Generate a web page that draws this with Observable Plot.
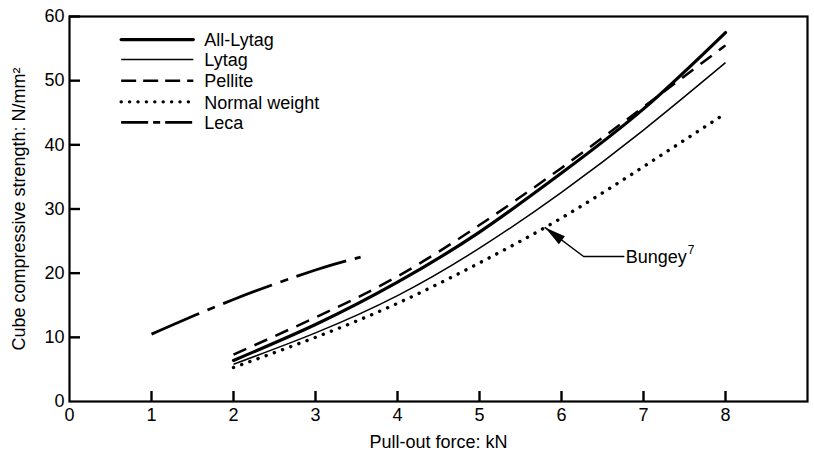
<!DOCTYPE html>
<html><head><meta charset="utf-8">
<script src="https://cdn.jsdelivr.net/npm/d3@7"></script>
<script src="https://cdn.jsdelivr.net/npm/@observablehq/plot@0.6"></script>
<style>body{margin:0;background:#fff}</style>
</head><body><div id="chart"></div>
<script>
// ---- data ----
const xTicks = [0, 1, 2, 3, 4, 5, 6, 7, 8];
const yTicks = [0, 10, 20, 30, 40, 50, 60];
const seriesNames = ["All-Lytag", "Lytag", "Pellite", "Normal weight", "Leca"];
const force = [2, 3, 4, 5, 6, 7, 8];
const allLytag = [6.4, 12.0, 18.6, 26.4, 35.6, 45.6, 57.5];
const lytag = [5.8, 10.7, 16.5, 23.9, 32.6, 42.3, 52.8];
const pellite = [7.3, 13.1, 19.5, 27.5, 36.4, 45.9, 55.5];
const normalWeight = [5.3, 10.0, 15.3, 21.6, 28.6, 36.6, 44.9];
const lecaForce = [1, 2, 3, 3.55];
const leca = [10.5, 15.9, 20.5, 22.5];
const annotationText = "Bungey";
const annotationSup = "7";
const annotationPath = [[5.80, 27.1], [6.27, 22.6], [6.76, 22.6]];
const legendY = [56.4, 53.3, 50.0, 46.7, 43.5];
const legendX = [0.63, 1.51];

// ---- layout ----
const W = 814, H = 453, ML = 69, MR = 7, MT = 16, MB = 52;
const plotW = W - ML - MR, plotH = H - MT - MB;
const xDomain = [0, 9], yDomain = [0, 60];
const xTickLenPx = 10, yTickLenPx = 11;
// tick lengths converted from pixels to data units
const xTickLen = xTickLenPx * (yDomain[1] - yDomain[0]) / plotH;
const yTickLen = yTickLenPx * (xDomain[1] - xDomain[0]) / plotW;

// ---- styles ----
const styles = {
  "All-Lytag": {strokeWidth: 3.2, dash: null, legendDash: null, cap: "round"},
  "Lytag": {strokeWidth: 1.5, dash: null, legendDash: null, cap: "butt"},
  "Pellite": {strokeWidth: 2.5, dash: "14,9", legendDash: "15,7", cap: "butt"},
  "Normal weight": {strokeWidth: 3.4, dash: "0.1,8.6", legendDash: "0.1,8.3", cap: "round"},
  "Leca": {strokeWidth: 2.8, dash: "52,9,8,9", legendDash: "27,5,7,5", cap: "butt"}
};

const seriesData = {
  "All-Lytag": force.map((x, i) => ({x, y: allLytag[i]})),
  "Lytag": force.map((x, i) => ({x, y: lytag[i]})),
  "Pellite": force.map((x, i) => ({x, y: pellite[i]})),
  "Normal weight": force.map((x, i) => ({x, y: normalWeight[i]})),
  "Leca": lecaForce.map((x, i) => ({x, y: leca[i]}))
};

const curveMarks = seriesNames.map(name => Plot.line(seriesData[name], {
  x: "x", y: "y", curve: "natural", stroke: "#000",
  strokeWidth: styles[name].strokeWidth,
  strokeDasharray: styles[name].dash,
  strokeLinecap: styles[name].cap
}));

const legendMarks = seriesNames.flatMap((name, i) => [
  Plot.line(legendX.map(x => ({x, y: legendY[i]})), {
    x: "x", y: "y", stroke: "#000",
    strokeWidth: styles[name].strokeWidth,
    strokeDasharray: styles[name].legendDash,
    strokeLinecap: styles[name].cap
  }),
  Plot.text([name], {x: legendX[1], y: legendY[i], text: d => d, textAnchor: "start", dx: 11, dy: 1, fontSize: 18, fill: "#000"})
]);

const arrowHead = {
  draw(ctx) {
    ctx.moveTo(0, 0);
    ctx.lineTo(-5, 21);
    ctx.lineTo(5, 21);
    ctx.closePath();
  }
};

const annotationMarks = [
  Plot.line(annotationPath.map(([x, y]) => ({x, y})), {x: "x", y: "y", stroke: "#000", strokeWidth: 1.4}),
  Plot.dot([annotationPath[0]], {x: d => d[0], y: d => d[1], symbol: arrowHead, fill: "#000", stroke: "none", rotate: -53, r: 5}),
  Plot.text([annotationText], {x: annotationPath[2][0], y: annotationPath[2][1], text: d => d, textAnchor: "start", dx: 2, dy: 1, fontSize: 18, fill: "#000"}),
  Plot.text([annotationSup], {x: annotationPath[2][0], y: annotationPath[2][1], text: d => d, textAnchor: "start", dx: 64, dy: -6, fontSize: 12, fill: "#000"})
];

const chart = Plot.plot({
  width: W,
  height: H,
  marginLeft: ML,
  marginRight: MR,
  marginTop: MT,
  marginBottom: MB,
  style: {fontFamily: "'Liberation Sans', Arial, Helvetica, sans-serif", fontSize: "18px", color: "#000", background: "#fff"},
  x: {domain: xDomain},
  y: {domain: yDomain},
  marks: [
    Plot.axisX({ticks: xTicks, tickSize: 0, tickPadding: 7, tickFormat: d => String(d), label: "Pull-out force: kN", labelAnchor: "center", labelOffset: 46, labelArrow: "none"}),
    Plot.axisY({ticks: yTicks, tickSize: 0, tickPadding: 5, tickFormat: d => String(d), label: "Cube compressive strength: N/mm\u00b2", labelAnchor: "center", labelOffset: 57, labelArrow: "none"}),
    Plot.ruleX(xTicks.slice(1), {x: d => d, y1: yDomain[0], y2: yDomain[0] + xTickLen, stroke: "#000", strokeWidth: 2.4}),
    Plot.ruleY(yTicks.slice(1), {y: d => d, x1: xDomain[0], x2: xDomain[0] + yTickLen, stroke: "#000", strokeWidth: 2.4}),
    Plot.frame({stroke: "#000", strokeWidth: 2.2}),
    ...curveMarks,
    ...legendMarks,
    ...annotationMarks
  ]
});
document.getElementById("chart").append(chart);
</script>
</body></html>
